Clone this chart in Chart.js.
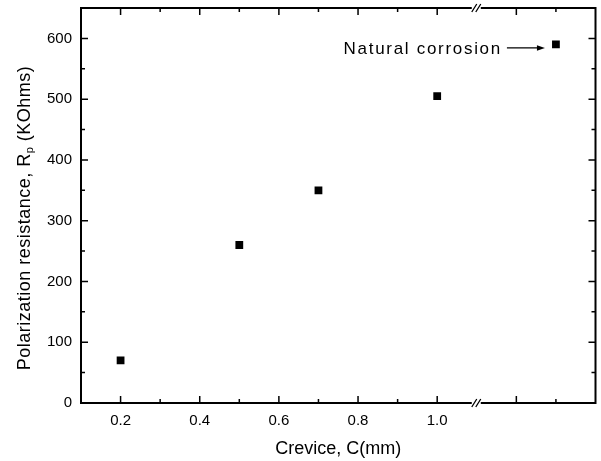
<!DOCTYPE html>
<html>
<head>
<meta charset="utf-8">
<script src="https://cdn.jsdelivr.net/npm/chart.js@4.4.0/dist/chart.umd.min.js"></script>
<style>
  body { margin: 0; background: #fff; }
</style>
</head>
<body>
<canvas id="rp-chart" width="601" height="461"></canvas>
<script>
const crevice = [0.2, 0.5, 0.7, 1.0];
const rp = [70, 260, 350, 505];
// natural corrosion has no crevice, it sits past the axis break
const naturalX = [1.3];
const naturalRp = [590];
const xTickLabels = ["0.2", "0.4", "0.6", "0.8", "1.0"];
const yTickLabels = ["0", "100", "200", "300", "400", "500", "600"];
const breakAt = 1.1;
const FONT = '"Liberation Sans", Arial, sans-serif';

const framePlugin = {
  id: "frame",
  afterDatasetsDraw(chart) {
    const { ctx, chartArea: a } = chart;
    const x = chart.scales.x, y = chart.scales.y;
    ctx.save();
    ctx.strokeStyle = "#000";
    ctx.lineWidth = 2;
    ctx.strokeRect(a.left, a.top, a.right - a.left, a.bottom - a.top);

    // inward ticks on all four sides
    ctx.lineWidth = 1.5;
    ctx.beginPath();
    x.ticks.forEach(t => {
      const v = Math.round(t.value * 10) / 10;
      if (v <= 0.1 || v >= 1.4 || v === breakAt) return;
      const len = Math.round(v * 10) % 2 === 0 ? 7 : 4;
      const px = x.getPixelForValue(v);
      ctx.moveTo(px, a.bottom); ctx.lineTo(px, a.bottom - len);
      ctx.moveTo(px, a.top); ctx.lineTo(px, a.top + len);
    });
    y.ticks.forEach(t => {
      if (t.value <= 0 || t.value >= 650) return;
      const len = t.value % 100 === 0 ? 7 : 4;
      const py = y.getPixelForValue(t.value);
      ctx.moveTo(a.left, py); ctx.lineTo(a.left + len, py);
      ctx.moveTo(a.right, py); ctx.lineTo(a.right - len, py);
    });
    ctx.stroke();

    // axis break marks
    const bx = x.getPixelForValue(breakAt);
    [a.top, a.bottom].forEach(by => {
      ctx.fillStyle = "#fff";
      ctx.fillRect(bx - 5, by - 3, 9, 6);
      ctx.beginPath();
      ctx.lineWidth = 1.3;
      [-2, 2].forEach(o => {
        ctx.moveTo(bx + o - 3, by + 4);
        ctx.lineTo(bx + o + 2, by - 4);
      });
      ctx.stroke();
    });

    // natural corrosion label + arrow
    const px = x.getPixelForValue(naturalX[0]);
    const py = y.getPixelForValue(naturalRp[0]);
    const ay = py + 3.5;
    ctx.beginPath();
    ctx.lineWidth = 1.2;
    ctx.moveTo(px - 49, ay);
    ctx.lineTo(px - 17, ay);
    ctx.stroke();
    ctx.fillStyle = "#000";
    ctx.beginPath();
    ctx.moveTo(px - 11, ay);
    ctx.lineTo(px - 19, ay - 2.8);
    ctx.lineTo(px - 19, ay + 2.8);
    ctx.closePath();
    ctx.fill();
    ctx.font = "17px " + FONT;
    ctx.letterSpacing = "1.7px";
    ctx.textAlign = "right";
    ctx.textBaseline = "alphabetic";
    ctx.fillText("Natural corrosion", px - 54, py + 10);
    ctx.letterSpacing = "0px";

    // y axis title with subscript p
    ctx.translate(25, 218);
    ctx.rotate(-Math.PI / 2);
    ctx.textAlign = "left";
    ctx.textBaseline = "middle";
    ctx.letterSpacing = "0.5px";
    const main = "Polarization resistance, R";
    const sub = "p";
    const rest = " (KOhms)";
    ctx.font = "18px " + FONT;
    const w1 = ctx.measureText(main).width;
    const w3 = ctx.measureText(rest).width;
    ctx.font = "11px " + FONT;
    const w2 = ctx.measureText(sub).width;
    let sx = -(w1 + w2 + w3) / 2;
    ctx.font = "18px " + FONT;
    ctx.fillText(main, sx, 0);
    sx += w1;
    ctx.font = "11px " + FONT;
    ctx.fillText(sub, sx, 5);
    sx += w2;
    ctx.font = "18px " + FONT;
    ctx.fillText(rest, sx, 0);
    ctx.restore();
  }
};

new Chart(document.getElementById("rp-chart"), {
  type: "scatter",
  data: {
    datasets: [
      {
        label: "Crevice",
        data: crevice.map((c, i) => ({ x: c, y: rp[i] })),
        pointStyle: "rect",
        pointRadius: 5.5,
        backgroundColor: "#000",
        borderColor: "#000",
        borderWidth: 0,
      },
      {
        label: "Natural corrosion",
        data: naturalX.map((c, i) => ({ x: c, y: naturalRp[i] })),
        pointStyle: "rect",
        pointRadius: 5.5,
        backgroundColor: "#000",
        borderColor: "#000",
        borderWidth: 0,
      },
    ],
  },
  options: {
    responsive: false,
    animation: false,
    layout: { padding: { top: 8, right: 4, left: 0, bottom: 0 } },
    plugins: { legend: { display: false }, tooltip: { enabled: false } },
    scales: {
      x: {
        type: "linear",
        min: 0.1,
        max: 1.4,
        grid: { display: false, drawTicks: false },
        border: { display: false },
        afterFit: s => { s.height = 58; s.paddingLeft = 0; s.paddingRight = 0; },
        ticks: {
          stepSize: 0.1,
          autoSkip: false,
          maxRotation: 0,
          padding: 9,
          color: "#000",
          font: { family: FONT, size: 15 },
          callback: v => {
            const s = v.toFixed(1);
            return xTickLabels.includes(s) ? s : "";
          },
        },
        title: {
          display: true,
          text: "Crevice, C(mm)",
          color: "#000",
          font: { family: FONT, size: 18 },
          padding: { top: 0, bottom: 1 },
        },
      },
      y: {
        min: 0,
        max: 650,
        grid: { display: false, drawTicks: false },
        border: { display: false },
        afterFit: s => { s.width = 81; s.paddingTop = 0; s.paddingBottom = 0; },
        ticks: {
          stepSize: 50,
          autoSkip: false,
          padding: 9,
          color: "#000",
          font: { family: FONT, size: 15 },
          callback: v => (yTickLabels.includes(String(v)) ? String(v) : ""),
        },
      },
    },
  },
  plugins: [framePlugin],
});
</script>
</body>
</html>
